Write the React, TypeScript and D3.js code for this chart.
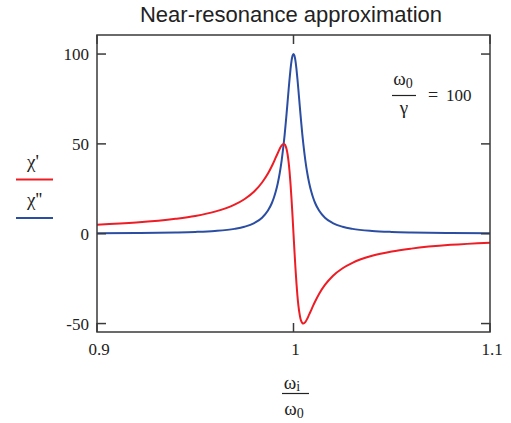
import React from "react";
import * as d3 from "d3";

// frequency ratio ω_i/ω_0
const omega = [
  0.9, 0.92, 0.94, 0.95, 0.96, 0.97, 0.975, 0.98, 0.984, 0.987, 0.989, 0.99, 0.991, 0.992,
  0.993, 0.994, 0.995, 0.9955, 0.996, 0.9965, 0.997, 0.9975, 0.998, 0.9985, 0.999, 0.9995,
  1.0, 1.0005, 1.001, 1.0015, 1.002, 1.0025, 1.003, 1.0035, 1.004, 1.0045, 1.005, 1.006,
  1.007, 1.008, 1.009, 1.01, 1.011, 1.013, 1.016, 1.02, 1.025, 1.03, 1.04, 1.05, 1.06,
  1.08, 1.1,
];
// χ' (red)
const chiReal = [
  5.0, 6.2, 8.3, 9.9, 12.3, 16.2, 19.2, 23.5, 28.5, 33.5, 37.7, 40.0, 42.5, 44.9,
  47.3, 49.2, 50.0, 49.7, 48.8, 47.0, 44.1, 40.0, 34.5, 27.5, 19.2, 9.9,
  0.0, -9.9, -19.2, -27.5, -34.5, -40.0, -44.1, -47.0, -48.8, -49.7, -50.0, -49.2,
  -47.3, -44.9, -42.5, -40.0, -37.7, -33.5, -28.5, -23.5, -19.2, -16.2, -12.3, -9.9, -8.3,
  -6.2, -5.0,
];
// χ'' (blue)
const chiImag = [
  0.25, 0.39, 0.69, 0.99, 1.54, 2.7, 3.85, 5.88, 8.9, 12.9, 17.1, 20.0, 23.6, 28.1,
  33.8, 41.0, 50.0, 55.2, 61.0, 67.1, 73.5, 80.0, 86.2, 91.7, 96.2, 99.0,
  100.0, 99.0, 96.2, 91.7, 86.2, 80.0, 73.5, 67.1, 61.0, 55.2, 50.0, 41.0,
  33.8, 28.1, 23.6, 20.0, 17.1, 12.9, 8.9, 5.88, 3.85, 2.7, 1.54, 0.99, 0.69,
  0.39, 0.25,
];
const xTicks = [0.9, 1.0, 1.1];
const xTickLabels = ["0.9", "1", "1.1"];
const yTicks = [-50, 0, 50, 100];
const yTickLabels = ["-50", "0", "50", "100"];

const W = 511;
const H = 423;
const L = 97, R = 490, T = 35, B = 332;
const RED = "#ee1c24";
const BLUE = "#2b4ea3";
const FRAME = "#3a3a3a";
const SERIF = "Liberation Serif, DejaVu Serif, serif";
const SANS = "Liberation Sans, Arial, sans-serif";
const serif = { fontFamily: SERIF };

export default function App() {
  const x = d3.scaleLinear().domain([0.9, 1.1]).range([L, R]);
  const y = d3.scaleLinear().domain([-54.7, 110.6]).range([B, T]);
  const mk = (vals: number[]) =>
    d3
      .line<number>()
      .x((_, i) => x(omega[i]))
      .y((v) => y(v))
      .curve(d3.curveMonotoneX)(vals) as string;
  const tl = 9;
  return (
    <svg
      width={W}
      height={H}
      style={{ position: "absolute", left: 0, top: 0, background: "#fff" }}
    >
      <text x={291} y={22} textAnchor="middle" style={{ fontFamily: SANS }} fontSize={22} fill="#222">
        Near-resonance approximation
      </text>
      <defs>
        <clipPath id="plotclip">
          <rect x={L} y={T} width={R - L} height={B - T} />
        </clipPath>
      </defs>
      <g clipPath="url(#plotclip)">
        <path d={mk(chiImag)} fill="none" stroke={BLUE} strokeWidth={2} />
        <path d={mk(chiReal)} fill="none" stroke={RED} strokeWidth={2} />
      </g>
      <rect x={L} y={T} width={R - L} height={B - T} fill="none" stroke={FRAME} strokeWidth={1.5} />
      {yTicks.map((t, i) => (
        <g key={"y" + t}>
          <line x1={L} x2={L + tl} y1={y(t)} y2={y(t)} stroke={FRAME} strokeWidth={1.5} />
          <line x1={R} x2={R - tl} y1={y(t)} y2={y(t)} stroke={FRAME} strokeWidth={1.5} />
          <text x={89} y={y(t) + 6} textAnchor="end" style={serif} fontSize={17} fill="#222">
            {yTickLabels[i]}
          </text>
        </g>
      ))}
      {xTicks.map((t, i) => (
        <g key={"x" + t}>
          <line x1={x(t)} x2={x(t)} y1={B} y2={B - tl} stroke={FRAME} strokeWidth={1.5} />
          <line x1={x(t)} x2={x(t)} y1={T} y2={T + tl} stroke={FRAME} strokeWidth={1.5} />
          <text x={x(t) + 2} y={355} textAnchor="middle" style={serif} fontSize={17} fill="#222">
            {xTickLabels[i]}
          </text>
        </g>
      ))}
      {/* x-axis label */}
      <g style={serif} fill="#222">
        <text x={292} y={389} textAnchor="middle" fontSize={19}>
          ω<tspan fontSize={14} dy={2}>i</tspan>
        </text>
        <line x1={282} x2={309} y1={393.5} y2={393.5} stroke="#222" strokeWidth={1.2} />
        <text x={294} y={415} textAnchor="middle" fontSize={19}>
          ω<tspan fontSize={14} dy={3}>0</tspan>
        </text>
      </g>
      {/* annotation */}
      <g style={serif} fill="#222">
        <text x={403} y={85} textAnchor="middle" fontSize={19}>
          ω<tspan fontSize={14} dy={3}>0</tspan>
        </text>
        <line x1={392} x2={416} y1={95.5} y2={95.5} stroke="#222" strokeWidth={1.2} />
        <text x={404} y={114} textAnchor="middle" fontSize={19}>
          γ
        </text>
        <text x={433} y={101} textAnchor="middle" fontSize={18}>
          =
        </text>
        <text x={446} y={101} fontSize={17}>
          100
        </text>
      </g>
      {/* legend */}
      <g style={serif} fill="#222">
        <text x={27} y={168} fontSize={19}>
          χ'
        </text>
        <line x1={16} x2={53} y1={179.5} y2={179.5} stroke={RED} strokeWidth={2} />
        <text x={27} y={206} fontSize={19}>
          χ''
        </text>
        <line x1={16} x2={53} y1={218} y2={218} stroke={BLUE} strokeWidth={2} />
      </g>
    </svg>
  );
}
